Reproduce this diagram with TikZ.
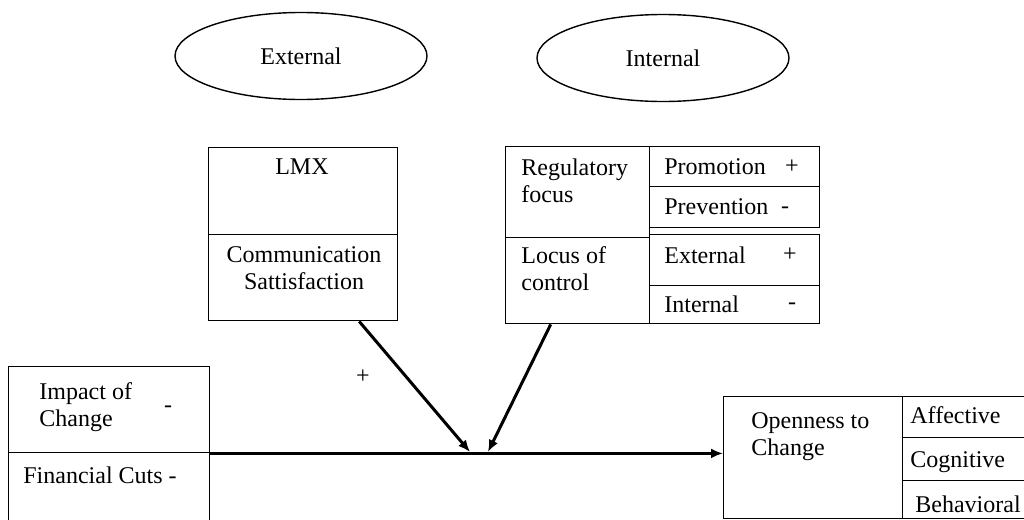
\documentclass[tikz,border=0pt]{standalone}
\usepackage{fontspec}
\setmainfont{Liberation Serif}
\newfontfamily\diagfont{Liberation Serif}
\usetikzlibrary{shapes.geometric,arrows.meta}

\begin{document}
\begin{tikzpicture}[
        x=0.5pt, y=-0.5pt,
        every node/.style={font=\diagfont\fontsize{12}{13.5}\selectfont},
        cell/.style 2 args={draw, line width=0.7pt, inner sep=0, minimum width=#1*0.5pt, minimum height=#2*0.5pt, anchor=north west},
        oval/.style={draw, ellipse, line width=0.7pt, minimum width=252*0.5pt, minimum height=87*0.5pt},
        txt/.style={inner sep=0, anchor=west, align=left},
        ctxt/.style={inner sep=0, align=center},
        arr/.style={line width=1.5pt, -{Latex[length=6pt,width=5pt]}}
    ]
        \useasboundingbox (0,0) rectangle (1024,520);
        \clip (0,0) rectangle (1024,520);

        % moderators
        \node[oval] (extOval) at (301,56) {External};
        \node[oval] (intOval) at (663,58) {Internal};

        % external box
        \node[cell={189}{87}] (lmx) at (208,147) {};
        \node[cell={189}{86}] (comm) at (208,234) {};
        \node[ctxt] (lmxT) at (302,167) {LMX};
        \node[ctxt] (commT) at (304,268) {Communication\\Sattisfaction};

        % internal box
        \node[cell={144}{91}] (reg) at (505,146) {};
        \node[cell={144}{86}] (loc) at (505,237) {};
        \node[cell={170}{40}] (promo) at (649,146) {};
        \node[cell={170}{41}] (prev) at (649,186) {};
        \node[cell={170}{51}] (extCell) at (649,234) {};
        \node[cell={170}{38}] (intCell) at (649,285) {};
        \node[txt] (regT) at (521,181) {Regulatory\\focus};
        \node[txt] (locT) at (521,269) {Locus of\\control};
        \node[txt] (promoT) at (664,167) {Promotion};
        \node[ctxt] (promoS) at (792,167) {+};
        \node[txt] (prevT) at (664,207) {Prevention};
        \node[ctxt] (prevS) at (785,210) {-};
        \node[txt] (extT) at (664,255) {External};
        \node[ctxt] (extS) at (790,255) {+};
        \node[txt] (intT) at (664,304) {Internal};
        \node[ctxt] (intS) at (792,306) {-};

        % predictor
        \node[cell={201}{86}] (impact) at (8,366) {};
        \node[cell={201}{80}] (fin) at (8,452) {};
        \node[txt] (impactT) at (39,407) {Impact of\\Change};
        \node[ctxt] (impactS) at (168,409) {-};
        \node[txt] (finT) at (23,475) {Financial Cuts -};

        % outcome
        \node[cell={179}{122}] (open) at (723,396) {};
        \node[cell={130}{41}] (aff) at (902,396) {};
        \node[cell={130}{43}] (cog) at (902,437) {};
        \node[cell={130}{38}] (beh) at (902,480) {};
        \node[txt] (openT) at (751,437) {Openness to\\Change};
        \node[txt] (affT) at (910,415) {Affective};
        \node[txt] (cogT) at (910,462) {Cognitive};
        \node[txt] (behT) at (915,504) {Behavioral};

        % paths
        \coordinate (hitL) at (470,452);
        \coordinate (hitR) at (488,452);
        \draw[arr] (impact.south east) -- (impact.south east -| open.west);
        \draw[arr] ([xshift=28pt]comm.south) -- (hitL);
        \draw[arr] ([xshift=-13.5pt]loc.south) -- (hitR);
        \node[ctxt] (plusT) at (363,377) {+};
    \end{tikzpicture}
\end{document}
